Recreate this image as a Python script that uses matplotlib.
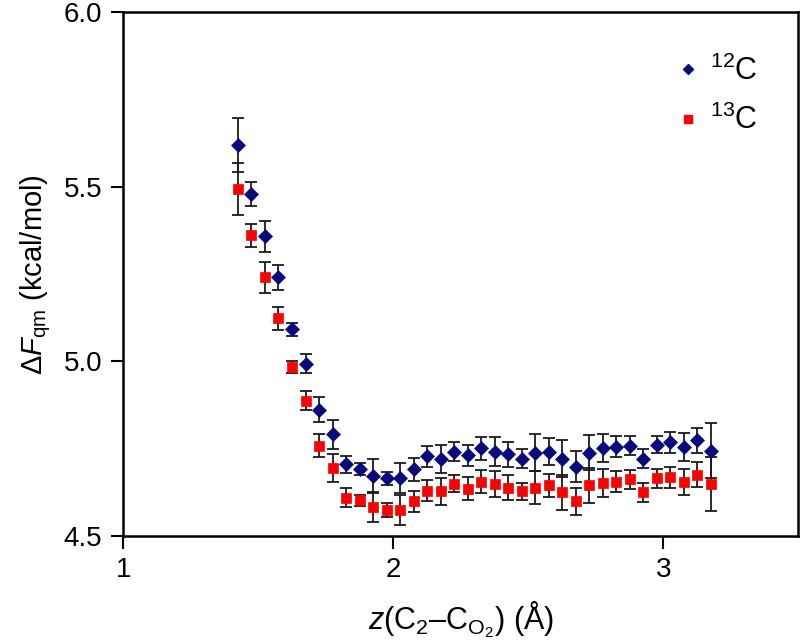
import numpy as np
import matplotlib
matplotlib.use('Agg')
import matplotlib.pyplot as plt
from matplotlib.lines import Line2D

plt.rcParams['font.family'] = ['Liberation Sans', 'DejaVu Sans']
plt.rcParams['mathtext.fontset'] = 'custom'
plt.rcParams['mathtext.rm'] = 'Liberation Sans'
plt.rcParams['mathtext.it'] = 'Liberation Sans:italic'
plt.rcParams['mathtext.bf'] = 'Liberation Sans:bold'

# reaction coordinate (Å)
z = [1.425, 1.475, 1.525, 1.575, 1.625, 1.675, 1.725, 1.775, 1.825, 1.875,
     1.925, 1.975, 2.025, 2.075, 2.125, 2.175, 2.225, 2.275, 2.325, 2.375,
     2.425, 2.475, 2.525, 2.575, 2.625, 2.675, 2.725, 2.775, 2.825, 2.875,
     2.925, 2.975, 3.025, 3.075, 3.125, 3.175]

# 12C free energy and error
f12 = [5.619, 5.479, 5.358, 5.241, 5.092, 4.994, 4.862, 4.791, 4.705, 4.691,
       4.673, 4.665, 4.665, 4.691, 4.728, 4.722, 4.742, 4.731, 4.751, 4.742,
       4.734, 4.722, 4.739, 4.742, 4.722, 4.699, 4.739, 4.751, 4.756, 4.759,
       4.722, 4.762, 4.768, 4.754, 4.774, 4.745]
e12 = [0.077, 0.034, 0.044, 0.036, 0.019, 0.027, 0.036, 0.042, 0.023, 0.017,
       0.049, 0.019, 0.043, 0.033, 0.030, 0.040, 0.027, 0.030, 0.033, 0.042,
       0.036, 0.027, 0.052, 0.039, 0.052, 0.044, 0.050, 0.040, 0.030, 0.027,
       0.026, 0.024, 0.029, 0.040, 0.036, 0.080]

# 13C free energy and error
f13 = [5.493, 5.361, 5.241, 5.123, 4.983, 4.888, 4.759, 4.696, 4.610, 4.602,
       4.582, 4.576, 4.576, 4.599, 4.630, 4.628, 4.650, 4.636, 4.656, 4.650,
       4.639, 4.628, 4.639, 4.645, 4.625, 4.599, 4.645, 4.653, 4.656, 4.662,
       4.625, 4.665, 4.668, 4.656, 4.676, 4.650]
e13 = [0.075, 0.033, 0.044, 0.032, 0.017, 0.026, 0.034, 0.040, 0.027, 0.017,
       0.043, 0.020, 0.043, 0.030, 0.030, 0.039, 0.024, 0.032, 0.032, 0.037,
       0.036, 0.024, 0.046, 0.033, 0.049, 0.040, 0.049, 0.040, 0.030, 0.027,
       0.027, 0.027, 0.030, 0.037, 0.036, 0.077]

blue = '#0a0a80'
red = '#ff0000'

fig = plt.figure(figsize=(8, 6.42), dpi=100)
ax = fig.add_axes([0.154, 0.165, 0.844, 0.816])

ax.errorbar(z, f12, yerr=e12, fmt='none', ecolor='#1a1a1a', elinewidth=1.3,
            capsize=4.5, capthick=1.3, zorder=2)
ax.plot(z, f12, 'D', color=blue, ms=6.8, mec=blue, mew=0.5, ls='none', zorder=3)
ax.errorbar(z, f13, yerr=e13, fmt='none', ecolor='#1a1a1a', elinewidth=1.3,
            capsize=4.5, capthick=1.3, zorder=2)
ax.plot(z, f13, 's', color=red, ms=6.8, mec=red, mew=0.5, ls='none', zorder=4)

ax.set_xlim(1, 3.5)
ax.set_ylim(4.5, 6.0)
ax.set_xticks([1, 2, 3])
ax.set_xticklabels(['1', '2', '3'])
ax.set_yticks([4.5, 5.0, 5.5, 6.0])
ax.set_yticklabels(['4.5', '5.0', '5.5', '6.0'])
ax.tick_params(direction='out', length=9, width=1.5, labelsize=20, pad=6)
for s in ax.spines.values():
    s.set_linewidth(1.8)

ax.set_xlabel('$z$(C$_2$–C$_{\\mathrm{O}_2}$) (Å)', fontsize=22, labelpad=12)
ax.set_ylabel('$\\mathit{\\Delta F}_{\\mathrm{qm}}$ (kcal/mol)', fontsize=21, labelpad=8)

handles = [Line2D([], [], marker='D', color=blue, ls='none', ms=5.5),
           Line2D([], [], marker='s', color=red, ls='none', ms=5.5)]
ax.legend(handles, ['$^{12}$C', '$^{13}$C'], loc='upper right',
          bbox_to_anchor=(0.98, 0.97), frameon=False, fontsize=22,
          handlelength=0.6, handletextpad=0.4, labelspacing=0.6)

fig.savefig('out.png', dpi=100)
